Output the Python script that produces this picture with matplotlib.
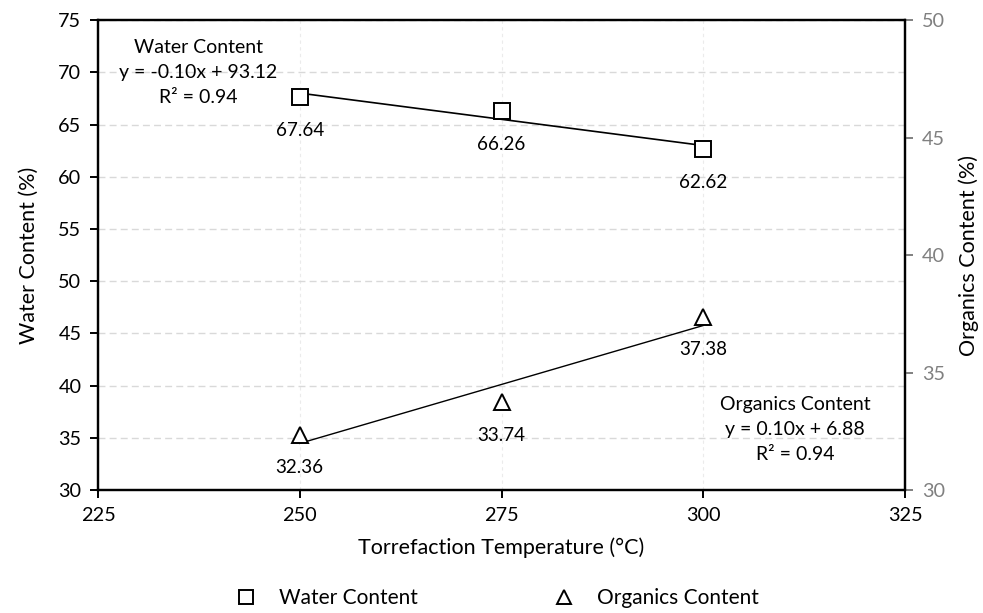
import matplotlib.pyplot as plt
import numpy as np

plt.rcParams['font.family'] = ['Lato', 'DejaVu Sans']
plt.rcParams['font.size'] = 13.6

temps = [250, 275, 300]
water = [67.64, 66.26, 62.62]
organics = [32.36, 33.74, 37.38]

fig, ax = plt.subplots(figsize=(9.83, 6.13), dpi=100)
fig.subplots_adjust(left=0.0997, right=0.9207, top=0.967, bottom=0.2007)
ax2 = ax.twinx()

# water content on the left axis
ax.plot(temps, water, linestyle='none', marker='s', markersize=11,
        markerfacecolor='white', markeredgecolor='black', markeredgewidth=1.4,
        label='Water Content', zorder=4)
k, b = np.polyfit(temps, water, 1)
xs = np.array([temps[0], temps[-1]])
ax.plot(xs, k * xs + b, color='black', lw=1.2, zorder=3)
for t, v in zip(temps, water):
    ax.annotate(f'{v:.2f}', (t, v), xytext=(0, -24), textcoords='offset points',
                ha='center', va='center')

# organics content on the right axis
ax2.plot(temps, organics, linestyle='none', marker='^', markersize=11,
         markerfacecolor='white', markeredgecolor='black', markeredgewidth=1.4,
         label='Organics Content', zorder=4)
k2, b2 = np.polyfit(temps, organics, 1)
ax2.plot(xs, k2 * xs + b2, color='black', lw=1.0, zorder=3)
for t, v in zip(temps, organics):
    ax2.annotate(f'{v:.2f}', (t, v), xytext=(0, -24), textcoords='offset points',
                 ha='center', va='center')

# trendline equations
ax.text(237.4, 70.0, f'Water Content\ny = {k:.2f}x + {b:.2f}\nR² = 0.94',
        ha='center', va='center', linespacing=1.6, fontsize=14)
ax.text(311.4, 35.8, f'Organics Content\ny = {k2:.2f}x + {b2:.2f}\nR² = 0.94',
        ha='center', va='center', linespacing=1.6, fontsize=14)

ax.set_xlim(225, 325)
ax.set_ylim(30, 75)
ax2.set_ylim(30, 50)
ax.set_xticks([225, 250, 275, 300, 325])
ax.set_yticks(np.arange(30, 76, 5))
ax2.set_yticks(np.arange(30, 51, 5))

ax.grid(axis='y', color='#d9d9d9', linestyle=(0, (5, 3)), lw=1.0)
ax.grid(axis='x', color='#ebebeb', linestyle=(0, (3, 3)), lw=0.8)
ax.set_axisbelow(True)

for s in ['left', 'bottom', 'top', 'right']:
    ax.spines[s].set_linewidth(1.6)
    ax2.spines[s].set_linewidth(1.6)
ax.tick_params(direction='out', length=6, width=1.4, colors='black', pad=6,
               labelsize=14.3)
ax2.tick_params(direction='out', length=6, width=1.4, color='#808080',
                labelcolor='#808080', pad=6, labelsize=14.3)

ax.set_xlabel('Torrefaction Temperature (°C)', labelpad=10, fontsize=15.5)
ax.set_ylabel('Water Content (%)', labelpad=14, fontsize=15.5)
ax2.set_ylabel('Organics Content (%)', labelpad=10, fontsize=15.5)

h1, l1 = ax.get_legend_handles_labels()
h2, l2 = ax2.get_legend_handles_labels()
fig.legend(h1 + h2, l1 + l2, loc='center', bbox_to_anchor=(0.505, 0.024),
           ncol=2, frameon=False, columnspacing=6.4, handlelength=1.2,
           handletextpad=1.0, markerscale=0.9, fontsize=15)

plt.savefig('out.png', dpi=100)
